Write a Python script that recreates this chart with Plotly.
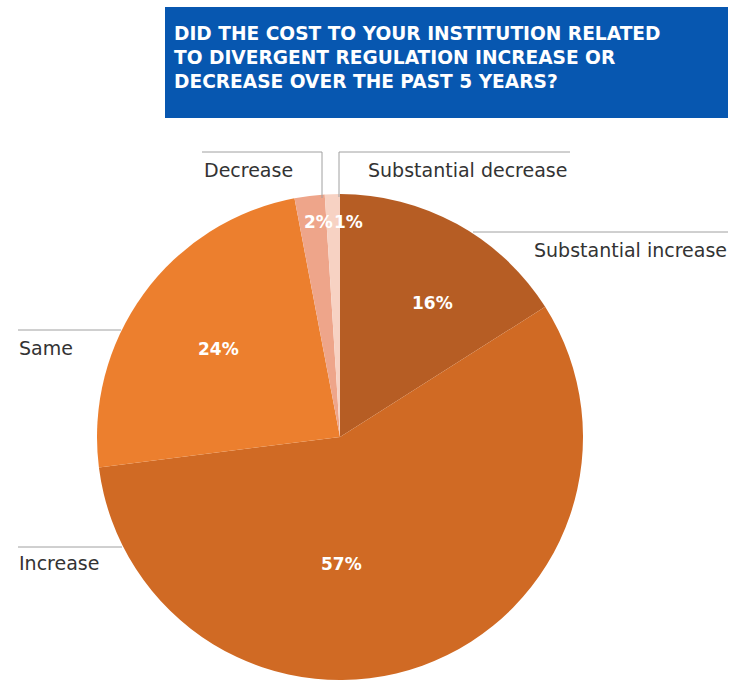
import plotly.graph_objects as go

# Survey answers, clockwise from 12 o'clock
categories = ["Substantial increase", "Increase", "Same", "Decrease", "Substantial decrease"]
shares = [16, 57, 24, 2, 1]
slice_colors = ["#b65d24", "#d06a24", "#ec7f2e", "#eea58a", "#f7d2c3"]

title_lines = [
    "DID THE COST TO YOUR INSTITUTION RELATED",
    "TO DIVERGENT REGULATION INCREASE OR",
    "DECREASE OVER THE PAST 5 YEARS?",
]

W, H = 740, 684


def px(x):
    return x / W


def py(y):
    return 1 - y / H


# Pie placement (pixel box of the circle)
cx, cy, r = 340, 437, 243

fig = go.Figure(
    go.Pie(
        labels=categories,
        values=shares,
        sort=False,
        direction="clockwise",
        rotation=0,
        marker=dict(colors=slice_colors, line=dict(width=0)),
        textinfo="none",
        hoverinfo="label+percent",
        showlegend=False,
        domain=dict(x=[px(cx - r), px(cx + r)], y=[py(cy + r), py(cy - r)]),
    )
)

shapes = []
# Title box
shapes.append(dict(type="rect", xref="paper", yref="paper",
                   x0=px(165), x1=px(728), y0=py(118), y1=py(7),
                   fillcolor="#0757b0", line=dict(width=0), layer="below"))

# Leader lines for the category labels
leader_segments = [
    ((202, 152), (322, 152)), ((322, 152), (322, 198)),
    ((339, 152), (570, 152)), ((339, 152), (339, 197)),
    ((473, 232), (728, 232)),
    ((18, 330), (121, 330)),
    ((18, 547), (122, 547)),
]
for (x0, y0), (x1, y1) in leader_segments:
    shapes.append(dict(type="line", xref="paper", yref="paper",
                       x0=px(x0), y0=py(y0), x1=px(x1), y1=py(y1),
                       line=dict(color="#a0a0a0", width=1)))

annotations = []
# Title lines, each placed separately for tight line spacing
for i, line in enumerate(title_lines):
    annotations.append(dict(
        text=line, xref="paper", yref="paper",
        x=px(172), y=py(33 + 24.5 * i), xanchor="left", yanchor="middle",
        showarrow=False,
        font=dict(family="DejaVu Sans", size=18.6, color="white", weight="bold"),
    ))

# Category labels: (x, y, anchor)
label_places = {
    "Decrease": (202, 170, "left"),
    "Substantial decrease": (366, 170, "left"),
    "Substantial increase": (729, 250, "right"),
    "Same": (17, 348, "left"),
    "Increase": (17, 563, "left"),
}
for name in categories:
    x, y, anchor = label_places[name]
    annotations.append(dict(
        text=name, xref="paper", yref="paper", x=px(x), y=py(y),
        xanchor=anchor, yanchor="middle", showarrow=False,
        font=dict(family="DejaVu Sans", size=19, color="#333333"),
    ))

# Percentage labels inside the slices
pct_places = [(432, 303), (341, 564), (218, 349), (318, 222), (348, 222)]
for v, (x, y) in zip(shares, pct_places):
    annotations.append(dict(
        text=f"{v}%", xref="paper", yref="paper", x=px(x), y=py(y),
        xanchor="center", yanchor="middle", showarrow=False,
        font=dict(family="DejaVu Sans", size=17, color="white", weight="bold"),
    ))

fig.update_layout(
    width=W, height=H,
    margin=dict(l=0, r=0, t=0, b=0),
    paper_bgcolor="white",
    plot_bgcolor="white",
    shapes=shapes,
    annotations=annotations,
)

fig.write_html("out.html")
